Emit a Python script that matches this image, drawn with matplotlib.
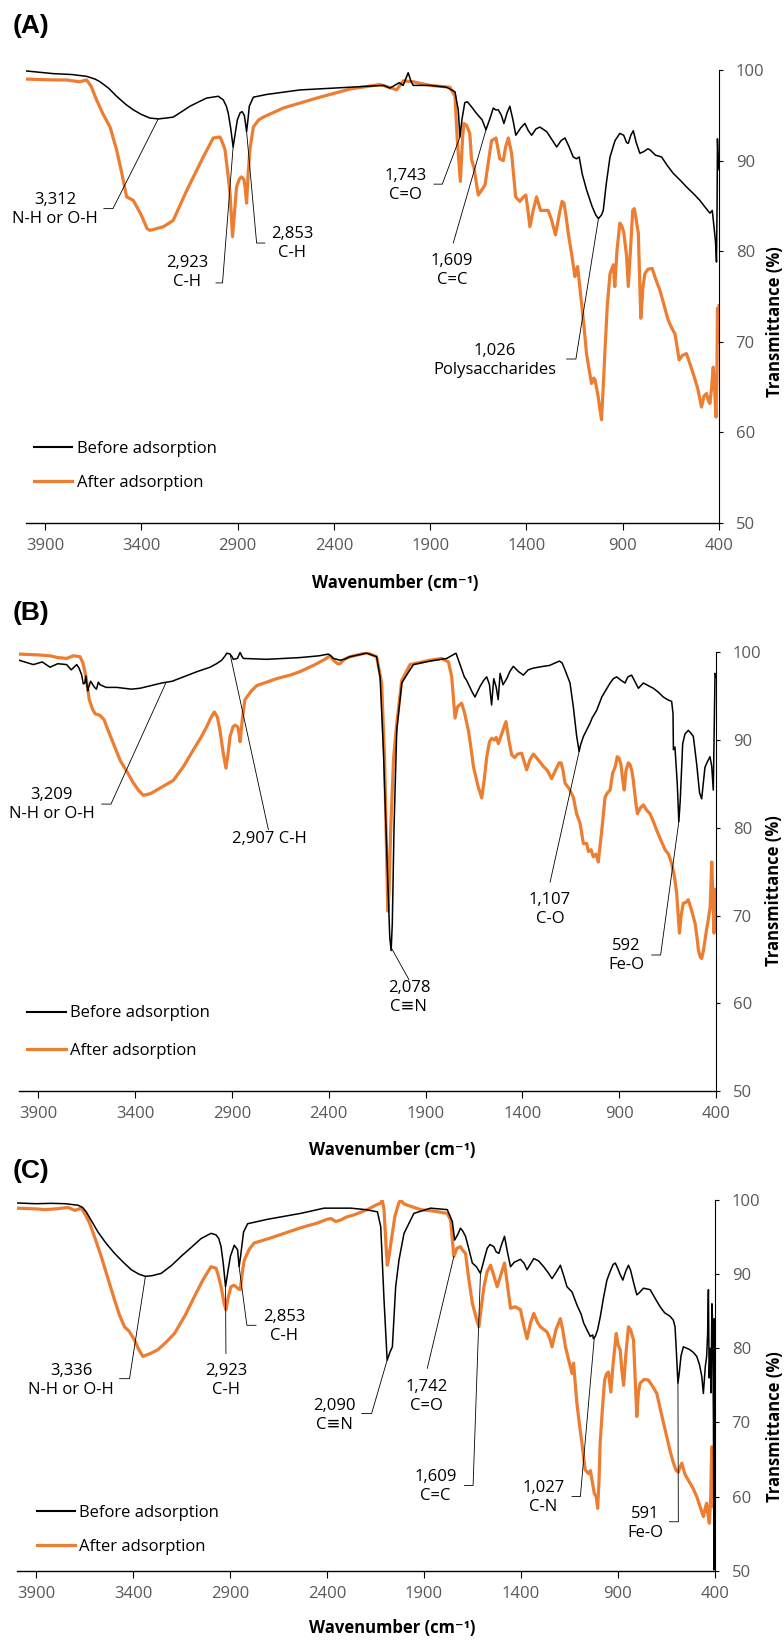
import numpy as np
import matplotlib.pyplot as plt
from matplotlib.lines import Line2D

plt.rcParams['font.family'] = ['Open Sans', 'DejaVu Sans']

BLACK = 'black'
ORANGE = '#ED7D31'
GREY = '#595959'

# ---------------- panel A data ----------------
wn_a_before = [4000, 3857, 3760, 3684, 3640, 3614, 3570, 3528, 3480, 3441, 3400, 3355, 3312, 3270, 3234,
               3190, 3147, 3100, 3061, 3000, 2974, 2958, 2948, 2935, 2923, 2912, 2901, 2886, 2876, 2865,
               2860, 2853, 2846, 2839, 2818, 2749, 2576, 2403, 2230, 2140, 2109, 2060, 2040, 2014, 2000,
               1988, 1900, 1815, 1771, 1754, 1745, 1735, 1720, 1707, 1680, 1659, 1630, 1610, 1590, 1572,
               1560, 1546, 1530, 1517, 1500, 1486, 1470, 1455, 1430, 1408, 1390, 1373, 1350, 1330, 1295,
               1270, 1243, 1220, 1200, 1180, 1157, 1140, 1126, 1110, 1088, 1060, 1040, 1026, 1010, 1001,
               985, 966, 940, 915, 895, 880, 871, 858, 845, 830, 811, 790, 770, 759, 730, 698, 670, 638,
               600, 569, 530, 499, 470, 447, 435, 425, 418, 413, 410, 408, 404, 400]
t_a_before = [99.9, 99.6, 99.5, 99.3, 99.0, 98.7, 98.0, 97.1, 96.2, 95.6, 95.1, 94.7, 94.6, 94.7, 94.8,
              95.4, 96.0, 96.5, 96.9, 97.1, 96.7, 96.0, 95.2, 93.5, 91.5, 93.0, 94.5, 95.3, 95.4, 95.0,
              94.3, 93.2, 94.5, 96.0, 97.0, 97.3, 97.8, 98.0, 98.2, 98.3, 98.0, 98.6, 98.3, 99.7, 98.8,
              98.3, 98.3, 98.1, 97.6, 95.6, 92.6, 94.5, 96.4, 96.5, 95.8, 95.2, 94.5, 93.4, 94.6, 95.8,
              95.6, 95.6, 95.0, 94.1, 95.3, 96.0, 94.5, 92.8, 93.6, 94.1, 93.3, 92.8, 93.5, 93.7, 93.2,
              92.4, 91.5, 92.2, 92.5, 91.6, 90.4, 90.2, 90.4, 88.5, 86.8, 85.0, 84.0, 83.6, 84.0, 84.5,
              87.5, 90.4, 92.2, 93.0, 92.8, 92.0, 91.9, 92.8, 93.3, 92.0, 90.8, 91.0, 91.3, 91.2, 90.6,
              90.4, 89.5, 88.6, 87.8, 87.1, 86.3, 85.6, 84.8, 84.2, 84.5, 82.5, 81.0, 78.8, 85.0, 92.4,
              90.0, 89.0]
wn_a_after = [4000, 3850, 3788, 3720, 3684, 3660, 3632, 3600, 3562, 3528, 3500, 3476, 3441, 3400, 3370,
              3355, 3320, 3285, 3234, 3200, 3164, 3120, 3078, 3026, 2991, 2975, 2965, 2950, 2939, 2926,
              2915, 2905, 2890, 2879, 2867, 2860, 2853, 2845, 2836, 2818, 2790, 2766, 2663, 2489, 2316,
              2161, 2100, 2074, 2040, 1988, 1901, 1797, 1771, 1759, 1743, 1732, 1725, 1711, 1694, 1685,
              1673, 1650, 1615, 1600, 1581, 1558, 1538, 1520, 1508, 1494, 1477, 1465, 1456, 1434, 1415,
              1403, 1392, 1382, 1365, 1347, 1327, 1305, 1287, 1270, 1249, 1230, 1215, 1205, 1195, 1183,
              1166, 1148, 1140, 1134, 1125, 1114, 1100, 1088, 1075, 1062, 1050, 1044, 1035, 1027, 1018,
              1010, 1000, 992, 980, 966, 949, 941, 930, 915, 905, 894, 880, 871, 860, 848, 840, 830, 819,
              811, 806, 795, 785, 770, 747, 730, 707, 685, 664, 645, 629, 618, 607, 590, 569, 550, 534,
              510, 491, 478, 465, 455, 447, 438, 430, 422, 416, 411, 408, 404, 400]
t_a_after = [99.0, 98.9, 98.9, 98.7, 98.9, 98.2, 96.7, 95.2, 93.7, 91.2, 88.5, 86.0, 85.6, 84.0, 82.5,
             82.3, 82.5, 82.7, 83.4, 85.0, 86.7, 88.6, 90.4, 92.5, 92.6, 91.8, 91.2, 88.5, 86.4, 81.6,
             84.5, 87.1, 88.0, 88.2, 87.9, 87.0, 85.3, 88.5, 91.2, 93.7, 94.5, 94.8, 95.8, 96.9, 97.9,
             98.4, 98.0, 97.8, 98.8, 98.7, 98.3, 98.1, 97.1, 92.3, 87.7, 92.3, 94.1, 93.9, 93.0, 90.1,
             89.3, 86.2, 87.3, 89.5, 92.2, 92.5, 90.2, 90.0, 91.5, 92.5, 90.8, 88.0, 86.0, 85.5, 86.0,
             86.2, 84.5, 82.7, 84.5, 86.0, 84.5, 84.5, 84.5, 83.5, 81.8, 84.0, 85.5, 85.3, 84.0, 82.0,
             79.8, 77.2, 78.0, 78.3, 76.5, 74.2, 71.5, 68.7, 67.0, 65.4, 66.0, 65.8, 64.8, 63.9, 62.5,
             61.4, 65.5, 69.1, 74.0, 77.5, 78.5, 76.1, 80.0, 83.1, 82.8, 82.0, 79.5, 76.1, 80.0, 84.5,
             84.7, 83.5, 82.0, 76.0, 72.6, 76.0, 77.5, 78.0, 78.1, 77.0, 75.7, 74.0, 72.4, 71.5, 70.9,
             69.5, 68.0, 68.5, 68.7, 67.5, 66.5, 64.8, 62.8, 64.0, 64.3, 63.5, 63.2, 65.0, 67.2, 64.5,
             61.7, 66.0, 73.7, 70.0, 74.0]

# ---------------- panel B data ----------------
wn_b_before = [4000, 3926, 3880, 3840, 3800, 3754, 3730, 3702, 3690, 3676, 3668, 3660, 3655, 3645, 3642,
               3630, 3610, 3600, 3590, 3581, 3550, 3495, 3420, 3375, 3320, 3263, 3209, 3151, 3080, 3013,
               2980, 2953, 2935, 2927, 2910, 2900, 2893, 2872, 2862, 2858, 2850, 2841, 2721, 2548, 2450,
               2402, 2390, 2376, 2342, 2320, 2290, 2204, 2153, 2135, 2118, 2100, 2085, 2078, 2072, 2063,
               2049, 2023, 1998, 1963, 1877, 1791, 1743, 1722, 1700, 1688, 1660, 1645, 1630, 1619, 1600,
               1584, 1570, 1559, 1548, 1535, 1525, 1515, 1500, 1481, 1465, 1447, 1420, 1395, 1370, 1343,
               1292, 1260, 1240, 1209, 1195, 1180, 1154, 1137, 1120, 1107, 1100, 1085, 1051, 1040, 1016,
               990, 947, 930, 913, 890, 870, 855, 836, 815, 801, 775, 750, 724, 700, 672, 650, 629, 622,
               620, 612, 600, 592, 585, 572, 560, 543, 530, 517, 500, 485, 474, 466, 457, 445, 431, 422,
               414, 410, 405, 400]
t_b_before = [99.1, 98.6, 98.9, 98.3, 98.7, 98.6, 98.0, 98.6, 98.2, 97.4, 96.4, 96.5, 97.3, 95.6, 95.9,
              96.7, 96.0, 95.8, 96.6, 96.3, 96.0, 96.0, 95.8, 95.9, 96.2, 96.5, 96.7, 97.2, 97.8, 98.3,
              98.7, 99.1, 99.6, 99.9, 99.8, 99.5, 99.2, 99.3, 99.8, 100.0, 99.6, 99.3, 99.2, 99.4, 99.6,
              99.8, 99.6, 99.3, 99.1, 99.2, 99.5, 99.9, 99.5, 97.2, 88.9, 77.0, 67.5, 66.0, 69.0, 80.0,
              91.1, 96.5, 97.4, 98.6, 99.0, 99.3, 99.9, 98.6, 97.2, 96.8, 95.5, 94.9, 95.6, 96.1, 96.8,
              97.2, 96.3, 94.0, 97.0, 96.0, 94.6, 97.6, 96.3, 97.0, 97.8, 98.4, 97.8, 97.4, 98.0, 98.2,
              98.4, 98.5, 98.7, 99.0, 98.8, 98.0, 96.5, 93.8, 90.5, 88.7, 89.4, 90.4, 91.9, 92.5, 93.4,
              94.9, 96.5, 97.0, 97.2, 96.8, 96.5, 97.2, 97.4, 96.5, 95.9, 96.5, 96.2, 95.9, 95.5, 94.9,
              94.6, 94.4, 93.0, 88.9, 89.2, 85.0, 80.7, 83.0, 89.6, 90.7, 91.1, 90.8, 90.4, 87.3, 84.0,
              83.3, 85.0, 86.9, 87.5, 88.1, 87.0, 84.3, 90.0, 97.6, 97.2]
wn_b_after = [4000, 3900, 3840, 3800, 3754, 3720, 3685, 3670, 3654, 3637, 3620, 3607, 3581, 3560, 3547,
              3520, 3478, 3440, 3409, 3380, 3358, 3320, 3289, 3250, 3203, 3150, 3099, 3060, 3031, 3010,
              2991, 2975, 2962, 2945, 2931, 2920, 2910, 2895, 2884, 2870, 2864, 2858, 2846, 2833, 2800,
              2772, 2720, 2669, 2600, 2548, 2480, 2420, 2394, 2385, 2376, 2355, 2342, 2320, 2290, 2250,
              2204, 2153, 2127, 2112, 2100, 2095, 2089, 2080, 2065, 2049, 2023, 1980, 1877, 1817, 1782,
              1765, 1748, 1735, 1714, 1700, 1679, 1665, 1653, 1630, 1610, 1597, 1584, 1570, 1559, 1545,
              1535, 1524, 1510, 1494, 1485, 1470, 1455, 1440, 1425, 1404, 1390, 1378, 1360, 1343, 1320,
              1292, 1270, 1249, 1230, 1210, 1200, 1190, 1180, 1160, 1137, 1120, 1102, 1085, 1068, 1059,
              1045, 1034, 1020, 1008, 990, 973, 960, 947, 934, 920, 910, 900, 891, 882, 874, 865, 853,
              844, 835, 827, 815, 806, 790, 775, 758, 741, 725, 706, 685, 663, 645, 629, 615, 603, 595,
              589, 580, 569, 555, 543, 525, 508, 498, 491, 482, 474, 465, 457, 448, 440, 430, 422, 416,
              410, 405, 400]
t_b_after = [99.8, 99.7, 99.6, 99.4, 99.3, 99.6, 99.5, 98.8, 97.2, 94.6, 93.5, 93.0, 92.8, 92.3, 91.5,
             90.0, 87.7, 86.3, 85.1, 84.2, 83.7, 83.9, 84.3, 84.8, 85.4, 87.0, 88.9, 90.3, 91.5, 92.5,
             93.2, 92.6, 91.1, 88.5, 86.8, 88.5, 90.4, 91.5, 91.7, 91.5, 90.8, 89.8, 92.5, 94.6, 95.6,
             96.2, 96.6, 97.0, 97.4, 97.8, 98.5, 99.2, 99.6, 99.4, 99.1, 98.7, 98.7, 99.2, 99.5, 99.7,
             99.95, 99.5, 96.5, 88.0, 75.5, 70.5, 72.5, 80.0, 88.0, 91.9, 96.8, 98.6, 99.1, 99.3, 98.9,
             97.2, 92.5, 93.8, 94.2, 93.2, 91.1, 89.0, 87.0, 84.8, 83.4, 85.5, 88.1, 89.8, 90.2, 90.0,
             90.3, 89.6, 90.5, 91.5, 92.1, 90.0, 88.3, 88.0, 88.4, 88.5, 87.5, 86.6, 87.8, 88.4, 87.8,
             87.0, 86.5, 85.6, 86.5, 87.4, 87.4, 86.5, 85.1, 84.5, 83.5, 81.6, 80.5, 78.2, 78.2, 77.3,
             77.5, 76.7, 77.0, 76.1, 79.7, 83.5, 84.0, 84.3, 86.2, 87.0, 88.1, 87.9, 87.2, 85.5, 84.3,
             86.5, 87.4, 87.2, 86.5, 85.4, 83.0, 81.6, 82.3, 82.6, 82.0, 81.6, 80.8, 79.7, 78.6, 77.5,
             77.0, 75.9, 74.5, 72.5, 70.0, 68.0, 70.0, 71.4, 71.5, 71.8, 70.5, 69.1, 67.5, 66.1, 65.3,
             65.1, 66.0, 67.2, 68.5, 69.5, 71.0, 76.1, 72.0, 68.0, 73.0, 69.0]

# ---------------- panel C data ----------------
wn_c_before = [4000, 3900, 3821, 3750, 3684, 3660, 3641, 3610, 3581, 3540, 3495, 3450, 3409, 3370, 3336,
               3300, 3255, 3200, 3152, 3100, 3049, 2998, 2972, 2958, 2946, 2935, 2923, 2910, 2898, 2878,
               2861, 2853, 2845, 2830, 2809, 2706, 2535, 2415, 2278, 2200, 2140, 2123, 2106, 2090, 2075,
               2063, 2046, 2029, 2003, 1975, 1952, 1866, 1780, 1754, 1742, 1725, 1712, 1700, 1686, 1670,
               1651, 1630, 1609, 1590, 1574, 1560, 1540, 1528, 1514, 1500, 1485, 1470, 1454, 1435, 1403,
               1385, 1369, 1350, 1334, 1310, 1283, 1260, 1240, 1220, 1197, 1180, 1163, 1137, 1111, 1090,
               1077, 1060, 1043, 1030, 1027, 1017, 1005, 991, 975, 957, 940, 925, 914, 900, 890, 875, 860,
               846, 835, 820, 803, 790, 769, 750, 734, 710, 683, 660, 631, 615, 606, 600, 591, 585, 575,
               563, 545, 529, 510, 494, 480, 468, 460, 450, 443, 438, 434, 430, 425, 420, 416, 412, 408,
               405, 403, 400]
t_c_before = [99.6, 99.5, 99.55, 99.5, 99.3, 99.0, 98.4, 97.0, 95.7, 94.2, 92.8, 91.6, 90.6, 90.0, 89.7,
              89.8, 90.1, 91.2, 92.4, 93.6, 94.8, 95.5, 95.3, 94.8, 93.7, 91.5, 88.3, 90.5, 92.4, 93.9,
              93.3, 91.0, 92.5, 95.7, 96.8, 97.4, 98.2, 98.9, 98.9, 98.7, 98.4, 96.4, 86.5, 78.4, 79.5,
              80.2, 88.3, 91.9, 95.5, 97.0, 98.2, 98.9, 98.7, 97.1, 94.6, 95.4, 96.2, 95.8, 95.1, 93.5,
              91.5, 91.0, 90.1, 92.0, 93.5, 94.0, 93.7, 93.0, 92.8, 94.0, 95.1, 93.0, 91.0, 91.6, 92.0,
              91.5, 90.6, 91.4, 92.1, 91.8, 91.0, 90.2, 89.4, 90.2, 91.2, 89.8, 88.3, 87.6, 85.8, 84.6,
              83.4, 82.5, 81.6, 81.8, 81.3, 81.6, 82.5, 84.3, 86.8, 89.2, 90.4, 91.3, 91.5, 90.7, 90.0,
              89.2, 90.4, 91.2, 90.5, 88.9, 87.2, 87.5, 88.1, 88.0, 87.9, 86.8, 85.6, 84.8, 84.3, 83.8,
              82.9, 80.0, 75.3, 76.5, 79.0, 80.2, 80.0, 79.8, 79.4, 78.9, 77.8, 76.2, 73.9, 77.5, 78.9,
              82.0, 87.9, 76.0, 80.0, 74.0, 86.0, 83.4, 70.0, 50.1, 84.0, 56.4]
wn_c_after = [4000, 3900, 3855, 3800, 3735, 3700, 3666, 3645, 3624, 3595, 3564, 3530, 3495, 3470, 3444,
              3420, 3392, 3370, 3349, 3310, 3272, 3230, 3186, 3130, 3083, 3040, 2998, 2972, 2960, 2946,
              2930, 2921, 2910, 2895, 2880, 2869, 2855, 2847, 2835, 2826, 2800, 2775, 2700, 2621, 2530,
              2449, 2400, 2380, 2355, 2329, 2300, 2260, 2192, 2149, 2123, 2115, 2106, 2095, 2089, 2080,
              2068, 2050, 2030, 2020, 2005, 1986, 1917, 1850, 1780, 1763, 1755, 1746, 1730, 1712, 1700,
              1686, 1670, 1651, 1630, 1617, 1605, 1591, 1575, 1557, 1540, 1523, 1505, 1485, 1470, 1454,
              1430, 1403, 1385, 1369, 1350, 1334, 1315, 1300, 1266, 1250, 1240, 1220, 1197, 1185, 1171,
              1155, 1137, 1129, 1112, 1100, 1086, 1069, 1052, 1042, 1034, 1022, 1012, 1005, 998, 992, 980,
              969, 960, 949, 937, 925, 909, 900, 889, 880, 871, 860, 846, 835, 820, 810, 803, 795, 786,
              765, 743, 720, 700, 675, 649, 630, 614, 600, 589, 580, 571, 555, 537, 515, 494, 475, 460,
              450, 443, 436, 429, 422, 417, 413, 409, 404, 400]
t_c_after = [98.9, 98.8, 98.7, 98.8, 99.0, 98.6, 98.9, 98.0, 96.9, 94.8, 92.4, 89.5, 86.5, 84.5, 82.9,
             82.3, 81.1, 79.8, 78.9, 79.3, 79.8, 80.8, 82.0, 84.5, 87.0, 89.2, 91.0, 90.8, 89.8, 88.3,
             86.0, 85.2, 86.8, 88.3, 88.5, 88.3, 88.0, 87.9, 90.5, 91.9, 93.4, 94.2, 94.8, 95.5, 96.3,
             96.9, 97.4, 97.5, 97.1, 97.3, 97.7, 98.0, 98.7, 99.3, 99.6, 100.0, 98.7, 93.5, 91.2, 92.5,
             94.6, 97.8, 99.6, 100.0, 99.5, 99.3, 98.7, 98.5, 98.2, 97.3, 95.0, 92.4, 93.5, 93.7, 93.2,
             92.8, 89.5, 86.1, 84.0, 82.9, 85.5, 88.3, 90.3, 91.2, 89.8, 88.3, 89.8, 91.5, 88.5, 85.4,
             85.6, 85.2, 83.0, 81.3, 83.5, 84.7, 83.5, 82.9, 82.2, 81.2, 80.2, 82.5, 84.0, 82.5, 80.2,
             78.5, 76.6, 78.0, 72.6, 70.0, 67.2, 63.6, 63.1, 63.5, 62.2, 60.4, 60.0, 58.4, 62.0, 67.2, 72.0,
             75.7, 76.5, 76.8, 74.1, 78.0, 82.0, 80.5, 79.8, 77.0, 75.0, 79.0, 82.9, 82.5, 81.1, 75.0,
             70.8, 74.0, 75.3, 75.8, 75.7, 74.8, 73.9, 71.0, 68.1, 66.0, 64.5, 63.5, 63.3, 64.0, 64.5,
             63.0, 62.2, 61.2, 60.0, 58.5, 57.3, 58.5, 59.1, 57.5, 56.4, 60.0, 66.7, 62.0, 58.6, 62.0,
             56.4]

# ---------------- peak labels ----------------
labels_a = ['3,312\nN-H or O-H', '2,923\nC-H', '2,853\nC-H', '1,743\nC=O', '1,609\nC=C',
            '1,026\nPolysaccharides']
peaks_a = [3312, 2923, 2853, 1745, 1609, 1026]
labels_b = ['3,209\nN-H or O-H', '2,907 C-H', '2,078\nC\u2261N', '1,107\nC-O', '592\nFe-O']
peaks_b = [3240, 2910, 2080, 1107, 592]
labels_c = ['3,336\nN-H or O-H', '2,923\nC-H', '2,853\nC-H', '2,090\nC\u2261N', '1,742\nC=O',
            '1,609\nC=C', '1,027\nC-N', '591\nFe-O']
peaks_c = [3336, 2923, 2853, 2090, 1746, 1609, 1022, 591]
peak_on_c = ['before', 'before', 'before', 'before', 'after', 'before', 'before', 'before']

# layout: text centre and leader points (data coords)
text_a = [(3848, 84.6), (3163, 77.7), (2618, 80.8), (2026, 87.3), (1787, 77.9), (1564, 67.9)]
lead_a = [[(3594, 84.7), (3547, 84.7)], [(3012, 76.5), (2978, 76.5)], [(2758, 80.9), (2801, 80.9)],
          [(1880, 87.4), (1837, 87.4)], [(1780, 80.9)], [(1191, 68.1), (1143, 68.1)]]
text_b = [(3830, 82.7), (2709, 78.7), (1986, 60.6), (1257, 70.7), (865, 65.5)]
lead_b = [[(3573, 82.7), (3525, 82.7)], [(2712, 79.8)], [(1986, 62.7)], [(1257, 73.8)],
          [(732, 65.5), (686, 65.5)]]
text_c = [(3718, 75.7), (2921, 75.7), (2622, 83.0), (2360, 71.0), (1887, 73.5), (1840, 61.3),
          (1285, 59.9), (760, 56.4)]
lead_c = [[(3469, 75.9), (3418, 75.9)], [(2921, 79.3)], [(2766, 83.1), (2813, 83.1)],
          [(2221, 71.2), (2170, 71.2)], [(1883, 77.3)], [(1691, 61.5), (1647, 61.5)],
          [(1137, 60.0), (1094, 60.0)], [(635, 56.6), (589, 56.6)]]

fig = plt.figure(figsize=(7.84, 16.41), dpi=100)
W, H = 784.0, 1641.0


def make_axes(left, right, top, bottom):
    return fig.add_axes([left / W, 1 - bottom / H, (right - left) / W, (bottom - top) / H])


def style(ax):
    ax.set_xlim(4000, 400)
    ax.set_ylim(50, 100)
    for s in ['left', 'top']:
        ax.spines[s].set_visible(False)
    ax.spines['bottom'].set_linewidth(1.0)
    ax.spines['right'].set_linewidth(0.8)
    ax.yaxis.tick_right()
    ax.set_xticks(np.arange(3900, 399, -500))
    ax.set_yticks(np.arange(50, 101, 10))
    ax.tick_params(axis='x', direction='out', length=5, width=0.8, pad=6, labelsize=12, labelcolor=GREY)
    ax.tick_params(axis='y', direction='out', length=3, width=0.8, pad=9, labelsize=12, labelcolor=GREY)


def draw_panel(ax, wb, tb, wa, ta, labels, peaks, on, texts, leads):
    ax.plot(wa, ta, color=ORANGE, lw=2.3, zorder=2)
    ax.plot(wb, tb, color=BLACK, lw=1.1, zorder=3)
    series = {'before': (wb, tb), 'after': (wa, ta)}
    for lab, pk, key, (tx, ty), pts in zip(labels, peaks, on, texts, leads):
        sw, st = series[key]
        py = np.interp(pk, sw[::-1], st[::-1])
        xs = [p[0] for p in pts] + [pk]
        ys = [p[1] for p in pts] + [py]
        ax.plot(xs, ys, color=BLACK, lw=0.6, zorder=4)
        ax.text(tx, ty, lab, ha='center', va='center', fontsize=12, linespacing=1.25, zorder=5)


panels = [
    dict(rect=(25.7, 719, 70, 523), wb=wn_a_before, tb=t_a_before, wa=wn_a_after, ta=t_a_after,
         labels=labels_a, peaks=peaks_a, on=['before'] * 6, texts=text_a, leads=lead_a,
         title='(A)', ty=26, leg=(0.012, 0.181), lsp=1.05, xl=(0.533, -0.1325), yl=(1.081, 0.445)),
    dict(rect=(19, 716, 652.3, 1091), wb=wn_b_before, tb=t_b_before, wa=wn_b_after, ta=t_b_after,
         labels=labels_b, peaks=peaks_b, on=['before'] * 5, texts=text_b, leads=lead_b,
         title='(B)', ty=613, leg=(0.012, 0.195), lsp=1.3, xl=(0.536, -0.1345), yl=(1.083, 0.456)),
    dict(rect=(16.6, 715, 1200, 1570.7), wb=wn_c_before, tb=t_c_before, wa=wn_c_after, ta=t_c_after,
         labels=labels_c, peaks=peaks_c, on=peak_on_c, texts=text_c, leads=lead_c,
         title='(C)', ty=1171, leg=(0.029, 0.177), lsp=1.05, xl=(0.5375, -0.1546), yl=(1.086, 0.39)),
]

for p in panels:
    l, r, t, b = p['rect']
    ax = make_axes(l, r, t, b)
    style(ax)
    draw_panel(ax, p['wb'], p['tb'], p['wa'], p['ta'], p['labels'], p['peaks'], p['on'],
               p['texts'], p['leads'])
    ax.set_xlabel('Wavenumber (cm\u207b\u00b9)', fontsize=12, fontweight='bold')
    ax.xaxis.set_label_coords(*p['xl'])
    ax.xaxis.label.set_va('center')
    ax.set_ylabel('Transmittance (%)', fontsize=12, fontweight='bold')
    ax.yaxis.set_label_position('right')
    ax.yaxis.set_label_coords(*p['yl'])
    ax.yaxis.label.set_va('center')
    handles = [Line2D([], [], color=BLACK, lw=1.5), Line2D([], [], color=ORANGE, lw=2.3)]
    ax.legend(handles, ['Before adsorption', 'After adsorption'], loc='upper left',
              bbox_to_anchor=p['leg'], frameon=False, fontsize=12, handlelength=2.3,
              handletextpad=0.25, labelspacing=p['lsp'], borderaxespad=0, borderpad=0)
    fig.text(13 / W, 1 - p['ty'] / H, p['title'], fontsize=19, fontweight='bold',
             family='Liberation Sans', ha='left', va='center')

fig.savefig('out.png', dpi=100)
